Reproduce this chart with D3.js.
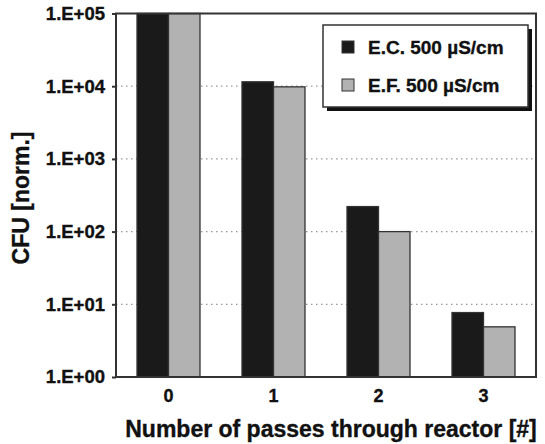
<!DOCTYPE html>
<html>
<head>
<meta charset="utf-8">
<script src="https://cdn.jsdelivr.net/npm/d3@7"></script>
<style>
  body { margin: 0; background: #fff; }
  svg text { font-family: "Liberation Sans", Arial, sans-serif; font-weight: bold; fill: #111; stroke: #111; stroke-width: 0.35px; }
</style>
</head>
<body>
<div id="chart"></div>
<script>
// values
const passes = ["0", "1", "2", "3"];
const seriesNames = ["E.C. 500 \u00b5S/cm", "E.F. 500 \u00b5S/cm"];
const ecValues = [100000, 11500, 221, 7.7];
const efValues = [100000, 9800, 100, 4.9];
const yTicks = [1, 10, 100, 1000, 10000, 100000];
const seriesColors = ["#1a1a1a", "#b2b2b2"];

const width = 545, height = 444;
const plot = {left: 116, right: 536, top: 13.5, bottom: 377};

let svg = d3.select("#chart").append("svg").attr("width", width).attr("height", height);

let x = d3.scaleBand().domain(passes).range([plot.left, plot.right]).paddingInner(0.4).paddingOuter(0.2);
let xInner = d3.scaleBand().domain(seriesNames).range([0, x.bandwidth()]);
let y = d3.scaleLog().domain([1, 100000]).range([plot.bottom, plot.top]);

// dotted gridlines
svg.append("g").selectAll("line").data(yTicks.slice(1, -1)).join("line")
    .attr("x1", plot.left).attr("x2", plot.right)
    .attr("y1", d => y(d)).attr("y2", d => y(d))
    .attr("stroke", "#999").attr("stroke-width", 1.2).attr("stroke-dasharray", "1.5,3.5");

// bars
let rows = passes.map((p, i) => ({pass: p, values: [ecValues[i], efValues[i]]}));
let groups = svg.append("g").selectAll("g").data(rows).join("g")
    .attr("transform", d => "translate(" + x(d.pass) + ",0)");
groups.selectAll("rect").data(d => d.values.map((v, j) => ({name: seriesNames[j], value: v, color: seriesColors[j]}))).join("rect")
    .attr("x", d => xInner(d.name))
    .attr("width", xInner.bandwidth())
    .attr("y", d => y(d.value))
    .attr("height", d => plot.bottom - y(d.value))
    .attr("fill", d => d.color)
    .attr("stroke", "#333").attr("stroke-width", 1.3);

// plot frame
svg.append("rect").attr("x", plot.left).attr("y", plot.top)
    .attr("width", plot.right - plot.left).attr("height", plot.bottom - plot.top)
    .attr("fill", "none").attr("stroke", "#333").attr("stroke-width", 2);

// y axis
let yAxis = d3.axisLeft(y).tickValues(yTicks).tickSize(4).tickPadding(7)
    .tickFormat(d => "1.E+0" + Math.round(Math.log10(d)));
let yg = svg.append("g").attr("transform", "translate(" + plot.left + ",0)").call(yAxis);
yg.select(".domain").remove();
yg.selectAll(".tick line").attr("stroke", "#333").attr("stroke-width", 2);
yg.selectAll(".tick text").style("font-size", "18.5px").attr("fill", "#111");

// x axis
let xAxis = d3.axisBottom(x).tickSize(0).tickPadding(12);
let xg = svg.append("g").attr("transform", "translate(0," + plot.bottom + ")").call(xAxis);
xg.select(".domain").remove();
xg.selectAll(".tick text").style("font-size", "18px").attr("fill", "#111");

// axis titles
svg.append("text").attr("x", 331).attr("y", 437).attr("text-anchor", "middle")
    .style("font-size", "23px").text("Number of passes through reactor [#]");
svg.append("text").attr("transform", "translate(29,198) rotate(-90)").attr("text-anchor", "middle")
    .style("font-size", "23px").text("CFU [norm.]");

// legend
let legend = svg.append("g").attr("transform", "translate(323,25)");
legend.append("rect").attr("x", 4).attr("y", 4).attr("width", 205).attr("height", 82).attr("fill", "#111");
legend.append("rect").attr("width", 205).attr("height", 82).attr("fill", "#fff").attr("stroke", "#333").attr("stroke-width", 1.5);
let items = legend.selectAll(".item").data(seriesNames).join("g").attr("class", "item")
    .attr("transform", (d, i) => "translate(0," + (22 + i * 38) + ")");
items.append("rect").attr("x", 19).attr("y", -6).attr("width", 12).attr("height", 12)
    .attr("fill", (d, i) => seriesColors[i]).attr("stroke", "#333").attr("stroke-width", 1);
items.append("text").attr("x", 45).attr("dy", "0.36em").style("font-size", "19px").text(d => d);
</script>
</body>
</html>
